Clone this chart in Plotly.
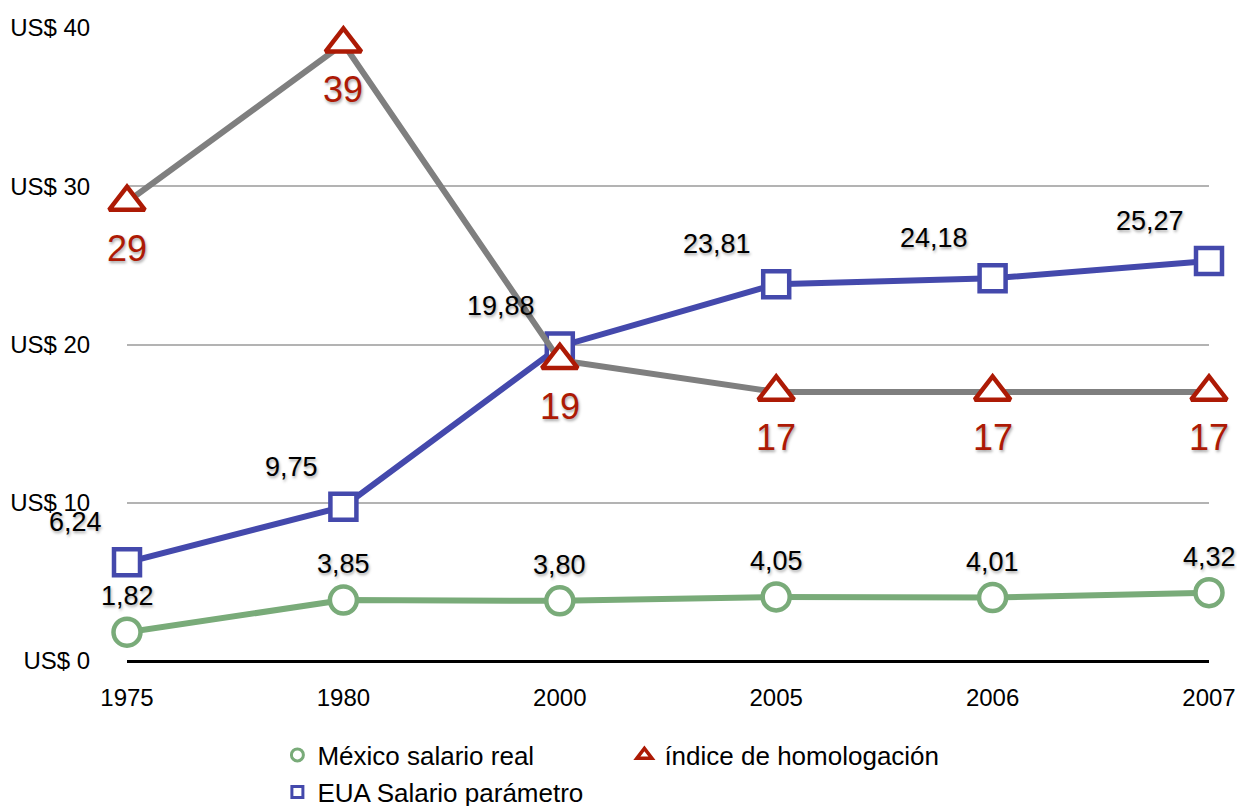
import plotly.graph_objects as go

years = ["1975", "1980", "2000", "2005", "2006", "2007"]
mexico = [1.82, 3.85, 3.80, 4.05, 4.01, 4.32]
eua = [6.24, 9.75, 19.88, 23.81, 24.18, 25.27]
indice = [29, 39, 19, 17, 17, 17]
y_ticks = [0, 10, 20, 30, 40]
y_ticktext = ["US$ 0", "US$ 10", "US$ 20", "US$ 30", "US$ 40"]

def fmt(v):
    return f"{v:.2f}".replace(".", ",")

xs = list(range(len(years)))
FONT = "Liberation Sans, Arial, Helvetica, sans-serif"
SHADOW = "1px 2px 3px rgba(0,0,0,0.35)"

GREEN = "#79AB79"
BLUE = "#4449AC"
GRAY = "#7F7F7F"
RED = "#AD1A05"

fig = go.Figure()

fig.add_trace(go.Scatter(
    x=xs, y=mexico, name="México salario real", mode="lines+markers",
    line=dict(color=GREEN, width=6),
    marker=dict(symbol="circle", size=27, color="white", line=dict(color=GREEN, width=4.5)),
    cliponaxis=False, showlegend=False,
))
fig.add_trace(go.Scatter(
    x=xs, y=eua, name="EUA Salario parámetro", mode="lines+markers",
    line=dict(color=BLUE, width=6),
    marker=dict(symbol="square", size=26, color="white", line=dict(color=BLUE, width=4.5)),
    cliponaxis=False, showlegend=False,
))
fig.add_trace(go.Scatter(
    x=xs, y=indice, name="índice de homologación", mode="lines+markers",
    line=dict(color=GRAY, width=6),
    marker=dict(symbol="triangle-up", size=31, color="white", line=dict(color=RED, width=4.5)),
    cliponaxis=False, showlegend=False,
))

# legend entries (marker-only symbols, as in the reference)
fig.add_trace(go.Scatter(
    x=[None], y=[None], name="México salario real", mode="markers",
    marker=dict(symbol="circle", size=12, color="white", line=dict(color=GREEN, width=3)),
    legend="legend", legendrank=1,
))
fig.add_trace(go.Scatter(
    x=[None], y=[None], name="índice de homologación", mode="markers",
    marker=dict(symbol="triangle-up", size=13, color="white", line=dict(color=RED, width=3.5)),
    legend="legend", legendrank=2,
))
fig.add_trace(go.Scatter(
    x=[None], y=[None], name="EUA Salario parámetro", mode="markers",
    marker=dict(symbol="square", size=11, color="white", line=dict(color=BLUE, width=3)),
    legend="legend2",
))

annotations = []
for x, v in zip(xs, mexico):
    annotations.append(dict(
        x=x, y=v, xref="x", yref="y", text=fmt(v), showarrow=False,
        xanchor="center", yanchor="middle", yshift=36,
        font=dict(size=27, color="black", family=FONT, shadow=SHADOW),
    ))
for x, v in zip(xs, eua):
    annotations.append(dict(
        x=x, y=v, xref="x", yref="y", text=fmt(v), showarrow=False,
        xanchor="right", yanchor="middle", xshift=-23, yshift=40,
        font=dict(size=27, color="black", family=FONT, shadow=SHADOW),
    ))
for x, v in zip(xs, indice):
    annotations.append(dict(
        x=x, y=v, xref="x", yref="y", text=str(v), showarrow=False,
        xanchor="center", yanchor="middle", yshift=-46,
        font=dict(size=36, color=RED, family=FONT, shadow=SHADOW),
    ))

fig.update_layout(
    width=1237, height=806,
    margin=dict(l=127, r=28, t=28, b=145, autoexpand=False),
    paper_bgcolor="white", plot_bgcolor="white",
    font=dict(family=FONT, color="black"),
    annotations=annotations,
    showlegend=True,
    legend=dict(
        orientation="h", x=0.139, y=-0.1485, xanchor="left", yanchor="middle",
        font=dict(size=26, color="black", family=FONT), entrywidth=302,
        bgcolor="rgba(0,0,0,0)",
    ),
    legend2=dict(
        orientation="h", x=0.139, y=-0.207, xanchor="left", yanchor="middle",
        font=dict(size=26, color="black", family=FONT),
        bgcolor="rgba(0,0,0,0)",
    ),
    xaxis=dict(
        range=[0, 5], tickvals=xs, ticktext=years,
        showgrid=False, zeroline=False, showline=False,
        tickfont=dict(size=24, color="black", family=FONT),
        ticks="outside", ticklen=15, tickcolor="rgba(0,0,0,0)",
        ticklabeloverflow="allow",
    ),
    yaxis=dict(
        range=[0, 40], tickvals=y_ticks, ticktext=y_ticktext,
        showgrid=True, gridcolor="#B3B3B3", gridwidth=1.5,
        zeroline=True, zerolinecolor="black", zerolinewidth=2.5,
        showline=False,
        tickfont=dict(size=24, color="black", family=FONT),
        ticks="outside", ticklen=31, tickcolor="rgba(0,0,0,0)",
        ticklabeloverflow="allow",
    ),
)

fig.write_html(
    "out.html",
    config={"displayModeBar": False},
    post_script="document.body.style.margin='0';document.body.style.overflow='hidden';",
)
